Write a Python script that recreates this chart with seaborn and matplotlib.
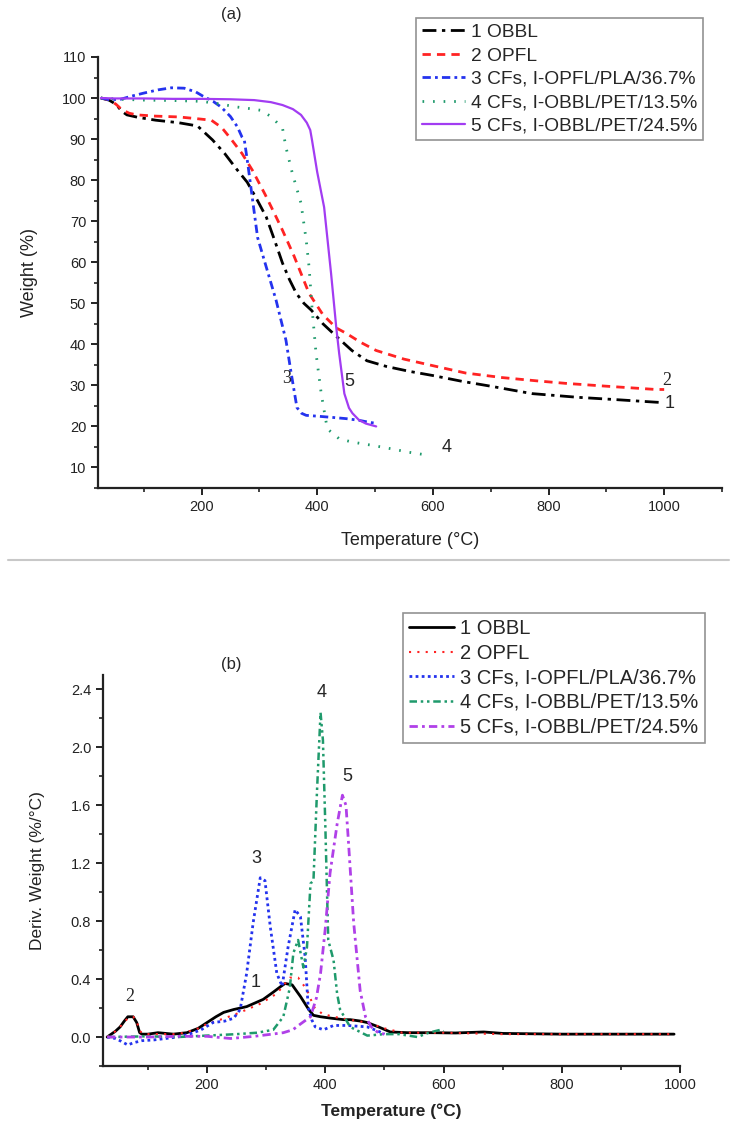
import matplotlib
matplotlib.use('Agg')
import matplotlib.pyplot as plt
from matplotlib.lines import Line2D
from matplotlib.ticker import MultipleLocator
import seaborn as sns

sns.set_theme(style='ticks')
plt.rcParams['font.family'] = ['Liberation Sans', 'DejaVu Sans']

# ---- panel (a): TGA weight curves ----
labels = ['1 OBBL', '2 OPFL', '3 CFs, I-OPFL/PLA/36.7%',
          '4 CFs, I-OBBL/PET/13.5%', '5 CFs, I-OBBL/PET/24.5%']

t1 = [26, 40, 52, 62, 71, 90, 121, 160, 193, 219, 240, 260, 279, 295, 312,
      326, 340, 352, 364, 377, 390, 410, 435, 460, 486, 520, 560, 600, 650,
      700, 771, 850, 920, 986, 1000]
w1 = [100, 99.5, 98.5, 96.8, 95.9, 95.3, 94.6, 94.0, 93.2, 89.8, 86.5, 82.8,
      79.5, 75.5, 71, 65.5, 59.8, 55.8, 52.4, 50.0, 48.3, 45.0, 41.7, 38.5,
      36, 34.6, 33.4, 32.4, 31.0, 29.8, 28, 27.1, 26.5, 25.9, 25.8]

t2 = [26, 40, 52, 62, 75, 88, 120, 160, 190, 217, 235, 250, 270, 288, 310,
      325, 340, 360, 386, 410, 433, 450, 475, 502, 550, 600, 657, 720, 780,
      829, 900, 986, 1000]
w2 = [100, 99.6, 98.5, 97.2, 96.3, 95.9, 95.6, 95.4, 95.0, 94.6, 92.8, 90.2,
      86.5, 82.4, 76.5, 72.2, 67.8, 61.5, 52.4, 47.2, 44, 42.7, 40.5, 38.5,
      36.4, 34.8, 33, 31.9, 31.1, 30.5, 29.8, 29, 29]

t3 = [26, 40, 60, 80, 100, 125, 148, 170, 190, 202, 220, 234, 250, 262, 270,
      274, 280, 286, 297, 312, 329, 346, 355, 365, 373, 381, 400, 426, 450,
      472, 490, 500]
w3 = [100, 99.6, 99.7, 100.5, 101.2, 102.0, 102.5, 102.4, 101.5, 100.5, 99.2,
      97.8, 95.5, 93, 90.5, 89.8, 84, 77.6, 66, 58.8, 50.7, 41, 33, 24.6,
      23.2, 22.7, 22.5, 22.2, 21.9, 21.5, 21.0, 20.8]

t4 = [26, 60, 100, 150, 200, 230, 262, 285, 303, 320, 340, 346, 357, 372, 381,
      386, 391, 398, 407, 417, 421, 438, 460, 495, 530, 559, 591]
w4 = [100, 99.7, 99.5, 99.4, 99.2, 98.6, 97.8, 97.4, 97.0, 95.5, 92.7, 88,
      81.7, 74.4, 65.4, 58.8, 49, 37.8, 28, 19.8, 19, 17, 16.2, 15.4, 14.5,
      13.7, 13]

t5 = [26, 50, 100, 150, 200, 250, 291, 320, 340, 358, 372, 382, 388, 391, 400,
      412, 424, 433, 438, 447, 455, 461, 472, 484, 502]
w5 = [100, 99.9, 99.9, 99.8, 99.8, 99.7, 99.5, 99.0, 98.3, 97.3, 95.9, 94.0,
      92.2, 89.8, 82, 73.4, 57.3, 44.1, 37.8, 28, 24.5, 23.2, 21.6, 20.7, 20]

# ---- panel (b): DTG curves ----
d1_t = [31, 45, 53, 60, 66, 75, 81, 86, 90, 100, 117, 130, 143, 166, 185, 200,
        215, 228, 245, 267, 295, 312, 325, 332, 344, 358, 372, 380, 392, 410,
        431, 442, 460, 471, 490, 510, 540, 583, 620, 668, 700, 800, 900, 990]
d1 = [0, 0.04, 0.07, 0.11, 0.14, 0.14, 0.10, 0.03, 0.02, 0.02, 0.03, 0.025,
      0.02, 0.03, 0.06, 0.10, 0.14, 0.17, 0.19, 0.21, 0.26, 0.31, 0.35, 0.37,
      0.36, 0.28, 0.19, 0.15, 0.14, 0.13, 0.12, 0.12, 0.11, 0.10, 0.07, 0.035,
      0.03, 0.03, 0.028, 0.035, 0.025, 0.02, 0.02, 0.02]

d2_t = [31, 45, 55, 66, 75, 81, 86, 95, 120, 150, 180, 200, 230, 256, 290,
        318, 330, 340, 354, 363, 372, 380, 395, 414, 440, 471, 500, 530, 600,
        700, 800, 900, 990]
d2 = [0, 0.04, 0.08, 0.13, 0.14, 0.11, 0.04, 0.02, 0.02, 0.02, 0.05, 0.09,
      0.13, 0.17, 0.23, 0.30, 0.36, 0.41, 0.41, 0.36, 0.30, 0.21, 0.16, 0.14,
      0.12, 0.10, 0.06, 0.03, 0.03, 0.02, 0.02, 0.02, 0.02]

d3_t = [31, 45, 55, 66, 75, 90, 110, 130, 150, 170, 190, 210, 230, 245, 256,
        267, 278, 290, 298, 307, 318, 327, 337, 349, 358, 366, 371, 377, 383,
        397, 414, 437, 471, 490, 500]
d3 = [0, -0.01, -0.03, -0.055, -0.04, -0.025, -0.02, -0.01, 0, 0.02, 0.05,
      0.10, 0.11, 0.13, 0.19, 0.44, 0.79, 1.10, 1.08, 0.76, 0.44, 0.35, 0.62,
      0.88, 0.83, 0.55, 0.21, 0.12, 0.07, 0.05, 0.08, 0.08, 0.07, 0.04, 0.02]

d4_t = [31, 100, 150, 200, 250, 285, 312, 329, 340, 346, 354, 363, 369, 375,
        380, 386, 392, 396, 400, 405, 414, 420, 425, 442, 471, 500, 525, 556,
        575, 595, 600]
d4 = [0, 0.005, 0.0, 0.01, 0.02, 0.03, 0.05, 0.14, 0.34, 0.58, 0.67, 0.48,
      0.62, 1.06, 1.08, 1.70, 2.24, 2.05, 1.47, 0.67, 0.53, 0.30, 0.19, 0.07,
      0.01, 0.02, 0.02, 0.0, 0.03, 0.05, 0.04]

d5_t = [31, 100, 150, 200, 240, 280, 310, 329, 345, 358, 375, 385, 392, 400,
        408, 420, 429, 435, 439, 448, 459, 468, 478, 488, 500]
d5 = [0, 0.0, 0.005, 0.005, -0.01, 0.005, 0.02, 0.03, 0.05, 0.09, 0.14, 0.27,
      0.44, 0.75, 1.13, 1.47, 1.67, 1.60, 1.36, 0.79, 0.32, 0.14, 0.07, 0.035,
      0.02]

colors = ['black', '#ff2323', '#2433ee', '#1f9a6c', '#a23cf2']


def style_axes(ax):
    sns.despine(ax=ax)
    for s in ['left', 'bottom']:
        ax.spines[s].set_linewidth(1.6)
        ax.spines[s].set_color('#222222')
    ax.tick_params(which='major', direction='out', length=5, width=1.4,
                   labelsize=10.5, colors='#222222')
    ax.tick_params(which='minor', direction='out', length=3, width=1.2,
                   colors='#222222')


def add_legend(ax, x, y, size, spacing):
    h, l = ax.get_legend_handles_labels()
    leg = fig.legend(h, l, loc='upper left', bbox_to_anchor=(x, y),
                     borderaxespad=0, fontsize=size, frameon=True,
                     fancybox=False, labelspacing=spacing, handlelength=2.25,
                     handletextpad=0.3, borderpad=0.3)
    leg.get_frame().set_edgecolor('#777777')
    leg.get_frame().set_linewidth(1.2)


fig = plt.figure(figsize=(7.4, 11.28), dpi=100)

# panel (a)
ax1 = fig.add_axes([98 / 740, 1 - 488 / 1128, 624 / 740, 431 / 1128])
styles_a = [(0, (5, 2, 1.2, 2)), (0, (3, 2.2)), (0, (3, 1.5, 1, 1.5)),
            (0, (0.6, 3.2)), '-']
widths_a = [2, 2, 2, 2, 1.6]
data_a = [(t1, w1), (t2, w2), (t3, w3), (t4, w4), (t5, w5)]
for (t, w), c, ls, lw, lab in zip(data_a, colors, styles_a, widths_a, labels):
    sns.lineplot(x=t, y=w, ax=ax1, color=c, linestyle=ls, linewidth=lw,
                 label=lab, legend=False, estimator=None)
ax1.set_xlim(21, 1100)
ax1.set_ylim(5, 110)
ax1.set_xticks([200, 400, 600, 800, 1000])
ax1.set_yticks(range(10, 111, 10))
ax1.xaxis.set_minor_locator(MultipleLocator(100))
ax1.yaxis.set_minor_locator(MultipleLocator(5))
style_axes(ax1)
ax1.set_xlabel('Temperature (°C)', fontsize=13, color='#222222')
ax1.set_ylabel('Weight (%)', fontsize=13, color='#222222')
ax1.xaxis.set_label_coords(0.5, -0.102)
ax1.yaxis.set_label_coords(-0.096, 0.5)
ax1.text(348, 31.7, '3', family='Liberation Serif', fontsize=13,
         ha='center', va='center')
ax1.text(455, 31, '5', fontsize=13, ha='center', va='center')
ax1.text(1004, 31.3, '2', family='Liberation Serif', fontsize=13,
         ha='center', va='center')
ax1.text(1010, 25.5, '1', fontsize=13, ha='center', va='center')
ax1.text(624, 14.9, '4', fontsize=13, ha='center', va='center')
fig.text(231 / 740, 1 - 15 / 1128, '(a)', fontsize=12, ha='center',
         va='center')
add_legend(ax1, 416 / 740, 1 - 18 / 1128, 13.8, 0.31)

# divider between panels
fig.add_artist(Line2D([8 / 740, 729 / 740], [1 - 560 / 1128, 1 - 560 / 1128],
                      color='#c8c8c8', lw=1.5))

# panel (b)
ax2 = fig.add_axes([103 / 740, 1 - 1066 / 1128, 577 / 740, 391 / 1128])
styles_b = ['-', (0, (1, 3)), (0, (1, 1.2)),
            (0, (3, 1.5, 1, 1.5, 1, 1.5)), (0, (3, 1.5, 1, 1.5))]
widths_b = [2, 1.5, 2, 1.8, 2]
colors_b = ['black', '#ff2323', '#2433ee', '#1f9a6c', '#b040e8']
data_b = [(d1_t, d1), (d2_t, d2), (d3_t, d3), (d4_t, d4), (d5_t, d5)]
for (t, d), c, ls, lw, lab in zip(data_b, colors_b, styles_b, widths_b,
                                  labels):
    sns.lineplot(x=t, y=d, ax=ax2, color=c, linestyle=ls, linewidth=lw,
                 label=lab, legend=False, estimator=None)
ax2.set_xlim(24, 1000)
ax2.set_ylim(-0.2, 2.5)
ax2.set_xticks([200, 400, 600, 800, 1000])
ax2.set_yticks([0.0, 0.4, 0.8, 1.2, 1.6, 2.0, 2.4])
ax2.xaxis.set_minor_locator(MultipleLocator(100))
ax2.yaxis.set_minor_locator(MultipleLocator(0.2))
style_axes(ax2)
ax2.set_xlabel('Temperature (°C)', fontsize=12.5, fontweight='bold',
               color='#222222')
ax2.set_ylabel('Deriv. Weight (%/°C)', fontsize=12.5, color='#222222')
ax2.xaxis.set_label_coords(0.5, -0.097)
ax2.yaxis.set_label_coords(-0.101, 0.5)
ax2.text(69, 0.28, '2', family='Liberation Serif', fontsize=13, ha='center',
         va='center')
ax2.text(283, 1.23, '3', fontsize=13, ha='center', va='center')
ax2.text(283, 0.38, '1', fontsize=13, ha='center', va='center')
ax2.text(393, 2.38, '4', fontsize=13, ha='center', va='center')
ax2.text(437, 1.8, '5', fontsize=13, ha='center', va='center')
fig.text(231 / 740, 1 - 665 / 1128, '(b)', fontsize=12, ha='center',
         va='center')
add_legend(ax2, 403 / 740, 1 - 613 / 1128, 14.5, 0.28)

fig.savefig('out.png', dpi=100)
